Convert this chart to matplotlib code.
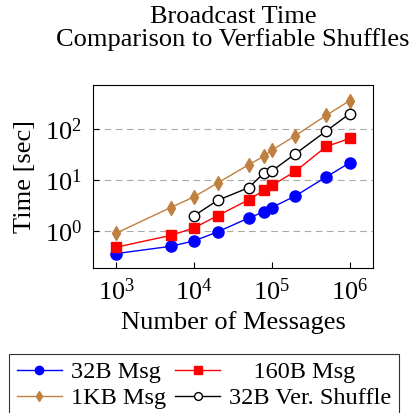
import numpy as np
import matplotlib
matplotlib.use("Agg")
import matplotlib.pyplot as plt

plt.rcParams['font.family'] = ['Liberation Serif', 'DejaVu Serif']
plt.rcParams['mathtext.fontset'] = 'cm'

# data (messages vs. seconds)
n_msgs = [1e3, 5e3, 1e4, 2e4, 5e4, 8e4, 1e5, 2e5, 5e5, 1e6]
t_32b = [0.36, 0.50, 0.64, 0.96, 1.8, 2.4, 2.9, 4.9, 11.6, 22]
t_160b = [0.48, 0.82, 1.15, 2.0, 4.1, 6.4, 7.9, 14.9, 46, 66]
t_1kb = [0.91, 2.9, 4.7, 8.8, 20, 30, 39, 75, 189, 366]
n_shuffle = [1e4, 2e4, 5e4, 8e4, 1e5, 2e5, 5e5, 1e6]
t_shuffle = [2.0, 4.0, 7.1, 14, 15.2, 33, 93, 203]

fig = plt.figure(figsize=(4.15, 4.13), dpi=100)
ax = fig.add_axes([0.224, 0.352, 0.675, 0.442])

l1, = ax.plot(n_msgs, t_32b, color='blue', marker='o', ms=8, lw=1, label='32B Msg')
l2, = ax.plot(n_msgs, t_160b, color='red', marker='s', ms=7.5, lw=1, label='    160B Msg')
l3, = ax.plot(n_msgs, t_1kb, color='#BF8040', marker='d', ms=7, lw=1, label='1KB Msg')
l4, = ax.plot(n_shuffle, t_shuffle, color='black', marker='o', ms=7.5, mfc='white',
              lw=1, label='32B Ver. Shuffle')

ax.set_xscale('log'); ax.set_yscale('log')
ax.set_xlim(10**2.70, 10**6.30)
ax.set_ylim(10**-0.72, 10**2.87)
ax.set_xticks([1e3, 1e4, 1e5, 1e6])
ax.set_yticks([1e0, 1e1, 1e2])
ax.minorticks_off()
ax.tick_params(direction='in', labelsize=19, length=4)
ax.tick_params(axis='x', pad=8)
ax.tick_params(axis='y', pad=8)
ax.yaxis.grid(True, linestyle=(0, (6, 4)), color='#aaaaaa', lw=0.8)
ax.set_axisbelow(True)

ax.set_title("Broadcast Time\nComparison to Verfiable Shuffles", fontsize=19, pad=28,
             linespacing=1.0)
ax.set_xlabel("Number of Messages", fontsize=19, labelpad=4)
ax.set_ylabel("Time [sec]", fontsize=19, labelpad=6)

leg = fig.legend(handles=[l1, l3, l2, l4], ncol=2, loc='upper center',
                 bbox_to_anchor=(0.492, 1 - 342 / 413), fontsize=17.5, frameon=True,
                 fancybox=False, edgecolor='black', handlelength=1.85,
                 columnspacing=0.4, handletextpad=0.37, labelspacing=0.15,
                 borderpad=0.3, markerscale=0.75)
leg.get_frame().set_linewidth(0.8)

fig.savefig("out.png", dpi=100)
